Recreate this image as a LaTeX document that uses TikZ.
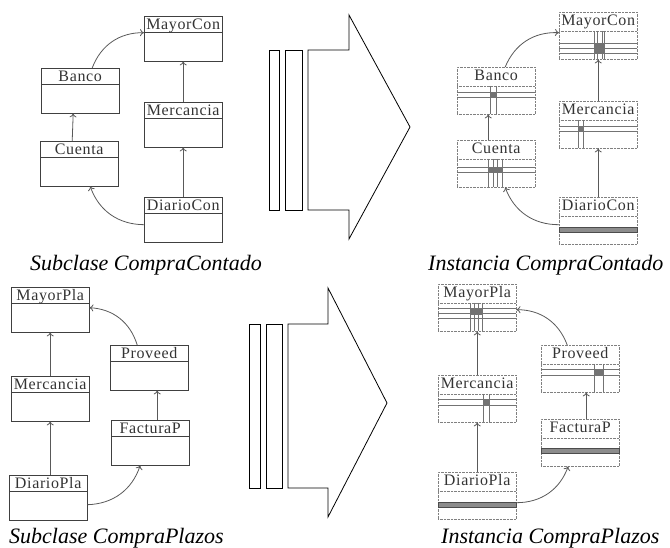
\documentclass[tikz,border=0pt]{standalone}
\usepackage{fontspec}
\usetikzlibrary{arrows.meta}
\setmainfont{Liberation Serif}
\newfontfamily\boxfont[LetterSpace=4]{Liberation Serif}

\begin{document}
\begin{tikzpicture}[x=1pt, y=-1pt,
    cls/.style={draw=black!75, anchor=north west, minimum width=78pt, inner sep=1pt,
        text height=12pt, text depth=31pt, text=black!80,
        font=\boxfont\fontsize{16pt}{16pt}\selectfont,
        path picture={\draw[black!75] ([yshift=-16pt]path picture bounding box.north west)
            -- ([yshift=-16pt]path picture bounding box.north east);}},
    inst/.style={cls, draw=black!50, densely dotted, text depth=33pt,
        path picture={\draw[black!50, densely dotted] ([yshift=-19pt]path picture bounding box.north west)
            -- ([yshift=-19pt]path picture bounding box.north east);}},
    conn/.style={-{To[length=4pt,width=7pt]}, black!65, line width=0.8pt},
    hbar/.style={black!55, line width=0.9pt},
    vbar/.style={black!55, line width=0.9pt},
    knot/.style={fill=black!55},
    bar/.style={fill=black!45, draw=black!70, line width=0.6pt},
    big/.style={black, line width=0.8pt},
    capt/.style={inner sep=0pt, font=\itshape\fontsize{22pt}{22pt}\selectfont}]
    \useasboundingbox (0,0) rectangle (670,548);

    % 子类 CompraContado
    \node[cls] (mayorcon) at (144,16) {MayorCon};
    \node[cls] (banco) at (41,68) {Banco};
    \node[cls] (cuenta) at (40,141) {Cuenta};
    \node[cls] (mercancia) at (144,102) {Mercancia};
    \node[cls] (diariocon) at (144,197) {DiarioCon};

    \draw[conn] ([xshift=-7pt]cuenta.north) -- ([xshift=-7pt]banco.south);
    \draw[conn] (mercancia.north) -- (mayorcon.south);
    \draw[conn] (diariocon.north) -- (mercancia.south);
    \draw[conn] ([xshift=12pt]banco.north) to[bend left=35] ([yshift=6pt]mayorcon.west);
    \draw[conn] ([yshift=-5pt]diariocon.west) to[bend left=35] ([xshift=11pt]cuenta.south);

    % 实例 CompraContado
    \node[inst] (mayorconI) at (559,12) {MayorCon};
    \node[inst] (bancoI) at (457,67) {Banco};
    \node[inst] (cuentaI) at (457,140) {Cuenta};
    \node[inst] (mercanciaI) at (559,101) {Mercancia};
    \node[inst] (diarioconI) at (559,197) {DiarioCon};

    \begin{scope}[shift={(mayorconI.north west)}]
        \draw[hbar] (0,31) -- (78,31) (0,36) -- (78,36) (0,41) -- (78,41);
        \draw[vbar] (35,19) -- (35,47) (38,19) -- (38,47) (43,19) -- (43,47) (45,19) -- (45,47);
        \fill[knot] (35,31) rectangle (45,41);
    \end{scope}
    \begin{scope}[shift={(bancoI.north west)}]
        \draw[hbar] (0,25) -- (78,25) (0,30) -- (78,30);
        \draw[vbar] (33,19) -- (33,47) (39,19) -- (39,47);
        \fill[knot] (33,25) rectangle (39,30);
    \end{scope}
    \begin{scope}[shift={(cuentaI.north west)}]
        \draw[hbar] (0,27) -- (78,27) (0,32) -- (78,32);
        \draw[vbar] (31,19) -- (31,47) (36,19) -- (36,47) (40,19) -- (40,47) (45,19) -- (45,47);
        \fill[knot] (31,27) rectangle (45,32);
    \end{scope}
    \begin{scope}[shift={(mercanciaI.north west)}]
        \draw[hbar] (0,25) -- (78,25) (0,30) -- (78,30);
        \draw[vbar] (19,19) -- (19,47) (24,19) -- (24,47);
        \fill[knot] (19,25) rectangle (24,30);
    \end{scope}
    \begin{scope}[shift={(diarioconI.north west)}]
        \draw[bar] (0,30) rectangle (78,35);
    \end{scope}

    \draw[conn] ([xshift=-8pt]cuentaI.north) -- ([xshift=-8pt]bancoI.south);
    \draw[conn] (mercanciaI.north) -- (mayorconI.south);
    \draw[conn] (diarioconI.north) -- (mercanciaI.south);
    \draw[conn] ([xshift=9pt]bancoI.north) to[bend left=35] ([yshift=3pt]mayorconI.west);
    \draw[conn] ([yshift=-4pt]diarioconI.west) to[bend left=35] ([xshift=9pt]cuentaI.south);

    % 子类 CompraPlazos
    \node[cls] (mayorpla) at (11,287) {MayorPla};
    \node[cls] (proveed) at (110,345) {Proveed};
    \node[cls] (mercanciaP) at (11,376) {Mercancia};
    \node[cls] (facturap) at (111,420) {FacturaP};
    \node[cls] (diariopla) at (9,475) {DiarioPla};

    \draw[conn] (mercanciaP.north) -- (mayorpla.south);
    \draw[conn] ([xshift=2pt]diariopla.north) -- ([xshift=2pt]diariopla.north |- mercanciaP.south);
    \draw[conn] ([xshift=7pt]facturap.north) -- ([xshift=7pt]facturap.north |- proveed.south);
    \draw[conn] ([xshift=-12pt]proveed.north) to[bend right=35] ([yshift=2pt]mayorpla.east);
    \draw[conn] ([yshift=-7pt]diariopla.east) to[bend right=35] ([xshift=-10pt]facturap.south);

    % 实例 CompraPlazos
    \node[inst] (mayorplaI) at (438,284) {MayorPla};
    \node[inst] (proveedI) at (541,345) {Proveed};
    \node[inst] (mercanciaPI) at (438,375) {Mercancia};
    \node[inst] (facturapI) at (541,419) {FacturaP};
    \node[inst] (diarioplaI) at (438,472) {DiarioPla};

    \begin{scope}[shift={(mayorplaI.north west)}]
        \draw[hbar] (0,24) -- (78,24) (0,29) -- (78,29) (0,34) -- (78,34);
        \draw[vbar] (32,19) -- (32,47) (36,19) -- (36,47) (40,19) -- (40,47) (44,19) -- (44,47);
        \fill[knot] (32,24) rectangle (44,31);
    \end{scope}
    \begin{scope}[shift={(proveedI.north west)}]
        \draw[hbar] (0,24) -- (78,24) (0,30) -- (78,30);
        \draw[vbar] (53,19) -- (53,47) (62,19) -- (62,47);
        \fill[knot] (53,24) rectangle (62,30);
    \end{scope}
    \begin{scope}[shift={(mercanciaPI.north west)}]
        \draw[hbar] (0,24) -- (78,24) (0,30) -- (78,30);
        \draw[vbar] (45,19) -- (45,47) (51,19) -- (51,47);
        \fill[knot] (45,24) rectangle (51,30);
    \end{scope}
    \begin{scope}[shift={(facturapI.north west)}]
        \draw[bar] (0,29) rectangle (78,34);
    \end{scope}
    \begin{scope}[shift={(diarioplaI.north west)}]
        \draw[bar] (0,30) rectangle (78,35);
    \end{scope}

    \draw[conn] (mercanciaPI.north) -- (mayorplaI.south);
    \draw[conn] (diarioplaI.north) -- (mercanciaPI.south);
    \draw[conn] ([xshift=6pt]facturapI.north) -- ([xshift=6pt]proveedI.south);
    \draw[conn] ([xshift=-13pt]proveedI.north) to[bend right=35] ([yshift=-2pt]mayorplaI.east);
    \draw[conn] ([yshift=-7pt]diarioplaI.east) to[bend right=35] ([xshift=-12pt]facturapI.south);

    % 大箭头
    \draw[big] (269,50) rectangle (279,210);
    \draw[big] (285.7,50) rectangle (302,210);
    \draw[big] (308,50) -- (349,50) -- (349,15) -- (410,127) -- (349,239) -- (349,210) -- (308,210) -- cycle;
    \draw[big] (249,324) rectangle (260,488);
    \draw[big] (266,324) rectangle (282,488);
    \draw[big] (288,324) -- (328,324) -- (328,288) -- (387,403) -- (328,517) -- (328,488) -- (288,488) -- cycle;

    % 标题
    \node[capt, anchor=base west] (capSubCon) at (30,271) {Subclase CompraContado};
    \node[capt, anchor=base west] (capInsCon) at (428,271) {Instancia CompraContado};
    \node[capt, anchor=base west] (capSubPla) at (9,543) {Subclase CompraPlazos};
    \node[capt, anchor=base west] (capInsPla) at (441,543) {Instancia CompraPlazos};
\end{tikzpicture}
\end{document}
